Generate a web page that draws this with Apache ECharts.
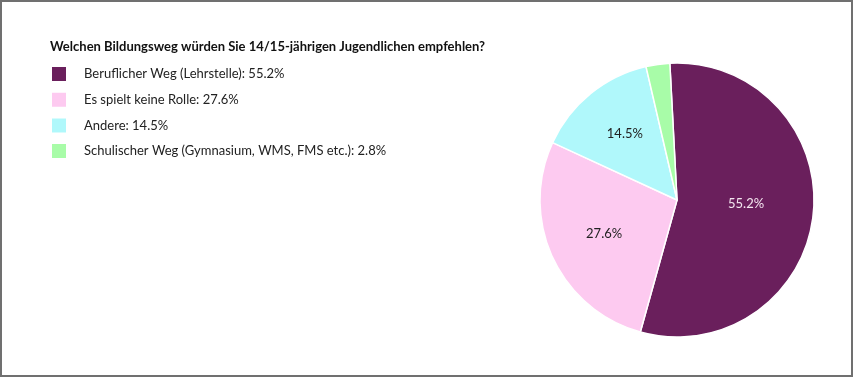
<!DOCTYPE html>
<html>
<head>
<meta charset="utf-8">
<script src="https://cdn.jsdelivr.net/npm/echarts@6/dist/echarts.min.js"></script>
<style>
  html, body { margin: 0; padding: 0; background: #fff; }
  #main { width: 853px; height: 377px; }
</style>
</head>
<body>
<div id="main"></div>
<script>
var chartDom = document.getElementById('main');
var myChart = echarts.init(chartDom);
var option;

var categories = [
  'Beruflicher Weg (Lehrstelle)',
  'Es spielt keine Rolle',
  'Andere',
  'Schulischer Weg (Gymnasium, WMS, FMS etc.)'
];
var shares = [55.2, 27.6, 14.5, 2.8];
var colors = ['#6a1f5c', '#fdcaf0', '#b0f8fb', '#a8fca8'];
var labelColors = ['#f4e6f0', '#222', '#222', '#222'];

var font = 'Lato';

// small nudges so the inside labels sit where the original puts them
var labelNudge = [[-2, -4], [-8, 4], [-7, -11], [0, 0]];

var pieData = categories.map(function (c, i) {
  return {
    name: c,
    value: shares[i],
    itemStyle: { color: colors[i] },
    label: { show: shares[i] > 5, color: labelColors[i] }
  };
});

option = {
  animation: false,
  title: {
    text: 'Welchen Bildungsweg würden Sie 14/15-jährigen Jugendlichen empfehlen?',
    left: 45,
    top: 35,
    textStyle: { fontFamily: font, fontSize: 13, fontWeight: 'bold', color: '#111' }
  },
  legend: {
    orient: 'vertical',
    left: 50,
    top: 65,
    padding: 0,
    itemWidth: 16,
    itemHeight: 16,
    itemGap: 7.7,
    icon: 'rect',
    formatter: function (name) {
      return name + ': ' + shares[categories.indexOf(name)].toFixed(1) + '%';
    },
    textStyle: { fontFamily: font, fontSize: 13, color: '#222', padding: [0, 0, 0, 12] }
  },
  graphic: [{
    type: 'rect',
    shape: { x: 1, y: 1, width: 851, height: 375 },
    style: { fill: 'none', stroke: '#707070', lineWidth: 2 },
    silent: true
  }],
  series: [{
    type: 'pie',
    center: [677, 200],
    radius: 137,
    startAngle: 93,
    clockwise: true,
    itemStyle: { borderColor: '#fff', borderWidth: 1.5 },
    label: {
      position: 'inside',
      fontFamily: font,
      fontSize: 13,
      formatter: function (p) { return p.value.toFixed(1) + '%'; }
    },
    labelLayout: function (p) {
      var n = labelNudge[p.dataIndex];
      return { dx: n[0], dy: n[1] };
    },
    labelLine: { show: false },
    emphasis: { disabled: true },
    data: pieData
  }]
};

option && myChart.setOption(option);
</script>
</body>
</html>
